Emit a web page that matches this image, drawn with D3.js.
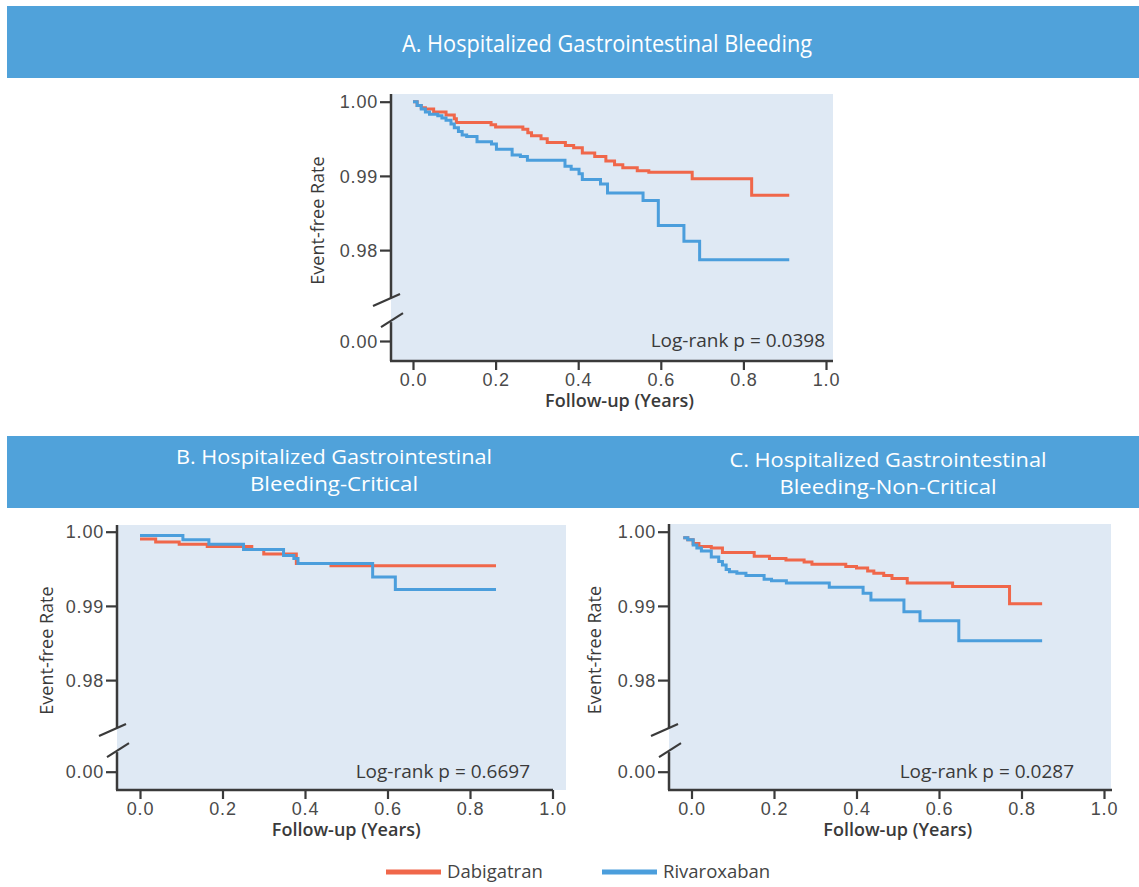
<!DOCTYPE html>
<html>
<head>
<meta charset="utf-8">
<script src="https://cdn.jsdelivr.net/npm/d3@7"></script>
<style>
  body { margin: 0; background: #fff; }
  svg { display: block; font-family: "Open Sans", "Noto Sans", sans-serif; }
  .tick text { fill: #4a4a4a; font-size: 18px; letter-spacing: 0.8px; }
  .tick line { stroke: #3a3a3a; stroke-width: 2.2px; }
</style>
</head>
<body>
<svg id="chart" width="1139" height="887"></svg>
<script>
// series: [follow-up years, event-free rate]
const dabigatranA = [[0,1.0],[0.01,0.9995],[0.02,0.9992],[0.03,0.9990],[0.05,0.9986],[0.08,0.9982],[0.10,0.9977],[0.105,0.9972],[0.189,0.9969],[0.20,0.9966],[0.266,0.9963],[0.278,0.9958],[0.287,0.9954],[0.31,0.9950],[0.325,0.9945],[0.369,0.9941],[0.389,0.9938],[0.41,0.9931],[0.44,0.9926],[0.467,0.9920],[0.488,0.9915],[0.508,0.9911],[0.543,0.9907],[0.571,0.9905],[0.676,0.9896],[0.82,0.9874],[0.911,0.9874]];
const rivaroxabanA = [[0,1.0],[0.01,0.9995],[0.02,0.9990],[0.03,0.9986],[0.04,0.9983],[0.06,0.9981],[0.07,0.9978],[0.08,0.9975],[0.092,0.9970],[0.10,0.9965],[0.11,0.9960],[0.119,0.9955],[0.13,0.9953],[0.155,0.9946],[0.19,0.9943],[0.202,0.9936],[0.24,0.9928],[0.26,0.9926],[0.277,0.9921],[0.368,0.9913],[0.383,0.9909],[0.402,0.9903],[0.41,0.9895],[0.454,0.9889],[0.471,0.9877],[0.557,0.9867],[0.594,0.9833],[0.656,0.9812],[0.694,0.9787],[0.911,0.9787]];

const dabigatranB = [[0,0.9990],[0.038,0.9986],[0.095,0.9983],[0.163,0.9980],[0.271,0.9976],[0.30,0.9970],[0.379,0.9957],[0.463,0.9954],[0.863,0.9954]];
const rivaroxabanB = [[0,0.9995],[0.104,0.9989],[0.167,0.9983],[0.251,0.9976],[0.348,0.9968],[0.373,0.9964],[0.383,0.9957],[0.564,0.9939],[0.619,0.9922],[0.863,0.9922]];

const dabigatranC = [[-0.02,0.9992],[-0.009,0.9989],[0.004,0.9984],[0.018,0.9980],[0.048,0.9978],[0.075,0.9972],[0.152,0.9967],[0.189,0.9964],[0.229,0.9962],[0.273,0.9959],[0.292,0.9956],[0.374,0.9953],[0.40,0.9951],[0.427,0.9947],[0.442,0.9944],[0.466,0.9941],[0.486,0.9937],[0.523,0.9931],[0.633,0.9926],[0.771,0.9903],[0.85,0.9903]];
const rivaroxabanC = [[-0.02,0.9992],[-0.009,0.9989],[0.004,0.9982],[0.013,0.9978],[0.024,0.9974],[0.048,0.9966],[0.066,0.9960],[0.075,0.9955],[0.084,0.9949],[0.092,0.9946],[0.11,0.9944],[0.132,0.9941],[0.176,0.9936],[0.194,0.9934],[0.23,0.9931],[0.334,0.9925],[0.416,0.9917],[0.435,0.9908],[0.515,0.9892],[0.554,0.9880],[0.648,0.9853],[0.85,0.9853]];

const panelTitles = [
  ["A. Hospitalized Gastrointestinal Bleeding"],
  ["B. Hospitalized Gastrointestinal", "Bleeding-Critical"],
  ["C. Hospitalized Gastrointestinal", "Bleeding-Non-Critical"]
];
const logRankP = ["0.0398", "0.6697", "0.0287"];
const xTicks = [0, 0.2, 0.4, 0.6, 0.8, 1.0];
const yTicks = [0, 0.98, 0.99, 1.0];
const seriesNames = ["Dabigatran", "Rivaroxaban"];
const seriesColors = ["#f0674a", "#4b9edc"];

const svg = d3.select('#chart');
const band = '#50a2da';
const plotBg = '#dfe9f4';
const ink = '#3a3a3a';

// header bands
svg.append('rect').attr('x', 7).attr('y', 6).attr('width', 1132).attr('height', 72).attr('fill', band);
svg.append('rect').attr('x', 7).attr('y', 436).attr('width', 1132).attr('height', 72).attr('fill', band);

function title(lines, cx, baselines, widths, size) {
  lines.forEach((t, i) => {
    svg.append('text')
      .attr('x', cx).attr('y', baselines[i])
      .attr('text-anchor', 'middle')
      .attr('fill', '#fff')
      .attr('font-size', size)
      .attr('textLength', widths[i])
      .attr('lengthAdjust', 'spacingAndGlyphs')
      .text(t);
  });
}
title(panelTitles[0], 607, [52], [410], 23);
title(panelTitles[1], 334, [464, 491], [316, 168], 20);
title(panelTitles[2], 888, [467, 494], [317, 217], 20);

// one KM panel
function drawPanel(p) {
  const g = svg.append('g');
  const x = d3.scaleLinear().domain([0, 1]).range([p.x0, p.x1]);
  // broken y axis: 0 .. 0.972 squeezed into the bottom stub
  const y = d3.scaleLinear().domain([0, 0.972, 1.0]).range([p.y0, p.y1 + 2.8 * p.step, p.y1]);

  g.append('rect')
    .attr('x', p.axisX).attr('y', p.top)
    .attr('width', p.bgRight - p.axisX).attr('height', p.axisY - p.top)
    .attr('fill', plotBg);

  const line = d3.line()
    .x(d => x(d[0])).y(d => y(d[1]))
    .curve(d3.curveStepAfter);

  p.series.forEach((s, i) => {
    g.append('path')
      .datum(s)
      .attr('d', line)
      .attr('fill', 'none')
      .attr('stroke', seriesColors[i])
      .attr('stroke-width', 3);
  });

  // x axis
  const xa = g.append('g')
    .attr('transform', `translate(0,${p.axisY})`)
    .call(d3.axisBottom(x).tickValues(xTicks).tickFormat(d3.format('.1f')).tickSize(9).tickPadding(3));
  xa.select('.domain').remove();
  g.append('line')
    .attr('x1', p.axisX - 1).attr('x2', p.axisEnd)
    .attr('y1', p.axisY).attr('y2', p.axisY)
    .attr('stroke', ink).attr('stroke-width', 2.5);

  // y axis
  const ya = g.append('g')
    .attr('transform', `translate(${p.axisX},0)`)
    .call(d3.axisLeft(y).tickValues(yTicks).tickFormat(d3.format('.2f')).tickSize(11).tickPadding(2));
  ya.select('.domain').remove();
  ya.selectAll('.tick text').attr('dy', '0.34em');

  const b1 = y(0.98) + 50, b2 = y(0.98) + 70;
  g.append('line')
    .attr('x1', p.axisX).attr('x2', p.axisX)
    .attr('y1', p.top).attr('y2', b1 - 2)
    .attr('stroke', ink).attr('stroke-width', 2.5);
  g.append('line')
    .attr('x1', p.axisX).attr('x2', p.axisX)
    .attr('y1', b2 + 2).attr('y2', p.axisY)
    .attr('stroke', ink).attr('stroke-width', 2.5);
  [[-18, 6, 9, -6, b1], [-10, 7, 12, -7, b2]].forEach(b => {
    g.append('line')
      .attr('x1', p.axisX + b[0]).attr('y1', b[4] + b[1])
      .attr('x2', p.axisX + b[2]).attr('y2', b[4] + b[3])
      .attr('stroke', ink).attr('stroke-width', 2.2);
  });

  // labels
  g.append('text')
    .attr('transform', `translate(${p.yLabelX},${(p.top + p.axisY) / 2 - 7}) rotate(-90)`)
    .attr('text-anchor', 'middle')
    .attr('font-size', 18).attr('font-weight', 500).attr('fill', ink)
    .text('Event-free Rate');
  g.append('text')
    .attr('x', (x(0) + x(1)) / 2).attr('y', p.axisY + 46)
    .attr('text-anchor', 'middle')
    .attr('font-size', 18).attr('font-weight', 600).attr('fill', ink)
    .text('Follow-up (Years)');
  g.append('text')
    .attr('x', p.pRight).attr('y', y(0)).attr('dy', '0.34em')
    .attr('text-anchor', 'end')
    .attr('font-size', 19).attr('fill', ink)
    .text('Log-rank p = ' + p.pValue);
}

drawPanel({ series: [dabigatranA, rivaroxabanA], pValue: logRankP[0],
  axisX: 391, axisY: 361, axisEnd: 833, top: 94, bgRight: 833,
  x0: 413, x1: 826, y1: 101.7, step: 74.2, y0: 341, yLabelX: 324, pRight: 825 });
drawPanel({ series: [dabigatranB, rivaroxabanB], pValue: logRankP[1],
  axisX: 117, axisY: 790, axisEnd: 553, top: 525, bgRight: 566,
  x0: 140, x1: 552.5, y1: 531.7, step: 74.2, y0: 771.7, yLabelX: 53, pRight: 530 });
drawPanel({ series: [dabigatranC, rivaroxabanC], pValue: logRankP[2],
  axisX: 669, axisY: 790, axisEnd: 1112, top: 524, bgRight: 1111,
  x0: 691.5, x1: 1104, y1: 531.7, step: 74.2, y0: 771.7, yLabelX: 601, pRight: 1074 });

// legend
const legend = svg.append('g');
const legendX = [386, 602];
seriesNames.forEach((n, i) => {
  legend.append('line')
    .attr('x1', legendX[i]).attr('x2', legendX[i] + 55)
    .attr('y1', 872).attr('y2', 872)
    .attr('stroke', seriesColors[i]).attr('stroke-width', 5);
  legend.append('text')
    .attr('x', legendX[i] + 61).attr('y', 872).attr('dy', '0.35em')
    .attr('font-size', 18.5).attr('fill', '#444')
    .text(n);
});
</script>
</body>
</html>
